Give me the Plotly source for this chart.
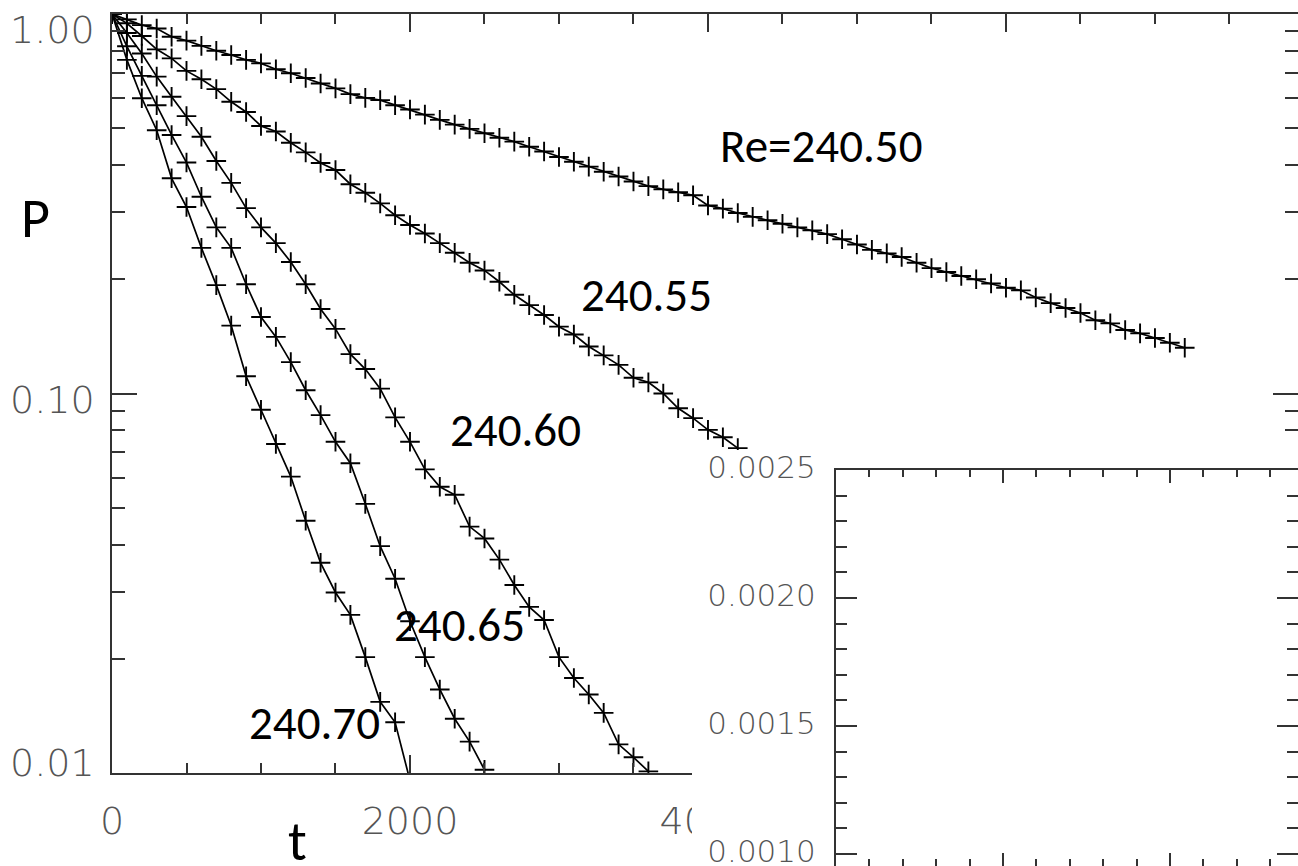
import math
import plotly.graph_objects as go

# ---------------- data ----------------
t_re24050 = list(range(0, 7201, 100))
p_re24050 = [1.000, 0.968, 0.935, 0.916, 0.871, 0.851, 0.824, 0.800, 0.780, 0.757,
             0.741, 0.715, 0.698, 0.678, 0.656, 0.637, 0.615, 0.601, 0.593, 0.575,
             0.560, 0.543, 0.526, 0.511, 0.498, 0.485, 0.472, 0.461, 0.447, 0.434,
             0.420, 0.408, 0.396, 0.384, 0.373, 0.362, 0.352, 0.345, 0.339, 0.333,
             0.313, 0.307, 0.299, 0.292, 0.286, 0.280, 0.274, 0.269, 0.263, 0.255,
             0.247, 0.239, 0.234, 0.229, 0.221, 0.214, 0.209, 0.204, 0.200, 0.195,
             0.190, 0.187, 0.179, 0.173, 0.168, 0.163, 0.156, 0.153, 0.147, 0.144,
             0.140, 0.136, 0.132]

t_re24055 = list(range(0, 4201, 100))
p_re24055 = [1.000, 0.945, 0.875, 0.807, 0.764, 0.708, 0.673, 0.634, 0.587, 0.552,
             0.507, 0.490, 0.458, 0.432, 0.405, 0.388, 0.356, 0.338, 0.317, 0.295,
             0.278, 0.264, 0.249, 0.235, 0.221, 0.211, 0.197, 0.182, 0.171, 0.161,
             0.150, 0.143, 0.133, 0.126, 0.119, 0.110, 0.107, 0.100, 0.0914, 0.0861,
             0.0802, 0.0767, 0.0718]

t_re24060 = list(range(0, 3601, 100))
p_re24060 = [1.000, 0.891, 0.787, 0.684, 0.605, 0.538, 0.475, 0.410, 0.359, 0.308,
             0.274, 0.249, 0.222, 0.194, 0.167, 0.148, 0.127, 0.116, 0.103, 0.0865,
             0.0746, 0.0631, 0.0568, 0.0541, 0.0446, 0.0415, 0.0365, 0.0313, 0.0274, 0.0253,
             0.0202, 0.0178, 0.0161, 0.0144, 0.0119, 0.0110, 0.0101]

t_re24065 = list(range(0, 2501, 100))
p_re24065 = [1.000, 0.822, 0.687, 0.575, 0.480, 0.406, 0.330, 0.274, 0.242, 0.194,
             0.159, 0.141, 0.121, 0.102, 0.0877, 0.0746, 0.0655, 0.0512, 0.0396, 0.0325,
             0.0251, 0.0202, 0.0166, 0.0139, 0.0121, 0.0102]

t_re24070 = list(range(0, 2001, 100))
p_re24070 = [1.000, 0.757, 0.600, 0.494, 0.369, 0.310, 0.242, 0.193, 0.151, 0.111,
             0.0906, 0.0736, 0.0604, 0.0462, 0.0358, 0.0299, 0.0261, 0.0202, 0.0154, 0.0136,
             0.00955]

curve_labels = ["Re=240.50", "240.55", "240.60", "240.65", "240.70"]
label_t = [4760, 3585, 2710, 2335, 1360]
label_p = [0.449, 0.182, 0.080, 0.0245, 0.01355]

x_tickvals = [0, 2000, 4000, 6000]
x_ticktext = ["0", "2000", "4000", "6000"]
x_minor = [500, 1000, 1500, 2500, 3000, 3500, 4500, 5000, 5500, 6500, 7000, 7500]
y_tickvals = [0.01, 0.1, 1.0]
y_ticktext = ["0.01", "0.10", "1.00"]
y_label_pos = [0.0106, 0.0962, 0.907]   # where the IDL labels sit next to their ticks
y_minor = [0.02, 0.03, 0.04, 0.05, 0.06, 0.07, 0.08, 0.09,
           0.2, 0.3, 0.4, 0.5, 0.6, 0.7, 0.8, 0.9]

inset_y_tickvals = [0.0010, 0.0015, 0.0020, 0.0025]
inset_y_ticktext = ["0.0010", "0.0015", "0.0020", "0.0025"]
inset_y_minor = [0.0011, 0.0012, 0.0013, 0.0014, 0.0016, 0.0017, 0.0018, 0.0019,
                 0.0021, 0.0022, 0.0023, 0.0024]
inset_x_tickvals = [0, 1, 2]
inset_x_minor = [0.2, 0.4, 0.6, 0.8, 1.2, 1.4, 1.6, 1.8, 2.2, 2.4, 2.6]

# ---------------- figure ----------------
W, H = 1298, 866
AX = "#333333"
LBL = "#555555"
TICKFONT = dict(family="DejaVu Sans", size=38, color=LBL, weight=200)
INSETFONT = dict(family="DejaVu Sans", size=31, color=LBL, weight=200)
TXTFONT = "Carlito, Lato, 'Open Sans', sans-serif"

fig = go.Figure()
for t, p in [(t_re24050, p_re24050), (t_re24055, p_re24055), (t_re24060, p_re24060),
             (t_re24065, p_re24065), (t_re24070, p_re24070)]:
    fig.add_trace(go.Scatter(
        x=t, y=p, mode="lines+markers", xaxis="x", yaxis="y",
        line=dict(color="black", width=1.7),
        marker=dict(symbol="cross-thin", size=14, color="black",
                    line=dict(color="black", width=1.9)),
        showlegend=False, hoverinfo="skip"))

# white cover subplot (inset picture background) and the inset itself
fig.add_trace(go.Scatter(x=[], y=[], xaxis="x2", yaxis="y2", showlegend=False))
fig.add_trace(go.Scatter(x=[], y=[], xaxis="x3", yaxis="y3", showlegend=False))


def px_x(px):
    return px / W


def px_y(py):
    return 1 - py / H


hidden = dict(showline=False, showticklabels=False, ticks="", showgrid=False,
              zeroline=False, range=[0, 1], fixedrange=True, automargin=False)

fig.update_layout(
    width=W, height=H,
    margin=dict(l=0, r=0, t=0, b=0, pad=0, autoexpand=False),
    paper_bgcolor="white", plot_bgcolor="white",
    xaxis=dict(
        domain=[px_x(112), 1], range=[0, 7960], anchor="y", automargin=False,
        showline=True, linecolor=AX, linewidth=2, mirror="ticks",
        ticks="inside", ticklen=18, tickwidth=2, tickcolor=AX,
        tickvals=x_tickvals, ticktext=x_ticktext, tickfont=TICKFONT,
        ticklabelstandoff=13, ticklabeloverflow="allow",
        minor=dict(tickvals=x_minor, ticks="inside", ticklen=10, tickwidth=2, tickcolor=AX),
        showgrid=False, zeroline=False),
    yaxis=dict(
        type="log", domain=[px_y(773), px_y(14)], range=[-2, 0], anchor="x", automargin=False,
        showline=True, linecolor=AX, linewidth=2, mirror="ticks",
        ticks="inside", ticklen=25, tickwidth=2, tickcolor=AX,
        tickvals=y_tickvals, showticklabels=False,
        minor=dict(tickvals=y_minor, ticks="inside", ticklen=13, tickwidth=2, tickcolor=AX),
        showgrid=False, zeroline=False),
    xaxis2=dict(domain=[px_x(692), 1], anchor="y2", **hidden),
    yaxis2=dict(domain=[0, px_y(450)], anchor="x2", **hidden),
    xaxis3=dict(
        domain=[px_x(836), 1], range=[0, 2.766], anchor="y3", automargin=False,
        showline=True, linecolor=AX, linewidth=2, mirror="ticks",
        ticks="inside", ticklen=13, tickwidth=2, tickcolor=AX,
        tickvals=inset_x_tickvals, showticklabels=False,
        minor=dict(tickvals=inset_x_minor, ticks="inside", ticklen=7, tickwidth=2, tickcolor=AX),
        showgrid=False, zeroline=False),
    yaxis3=dict(
        domain=[0, px_y(470)], range=[0.000953, 0.0025], anchor="x3", automargin=False,
        showline=True, linecolor=AX, linewidth=2, mirror="ticks",
        ticks="inside", ticklen=21, tickwidth=2, tickcolor=AX,
        tickvals=inset_y_tickvals, ticktext=inset_y_ticktext, tickfont=INSETFONT,
        ticklabelstandoff=12, ticklabeloverflow="allow", ticklabelshift=-3,
        minor=dict(tickvals=inset_y_minor, ticks="inside", ticklen=11, tickwidth=2, tickcolor=AX),
        showgrid=False, zeroline=False),
)

annotations = []
# main y tick labels (IDL places them slightly off their ticks)
for txt, yp in zip(y_ticktext, y_label_pos):
    annotations.append(dict(x=px_x(97), y=math.log10(yp), xref="paper", yref="y", text=txt,
                            showarrow=False, xanchor="right", yanchor="middle",
                            font=TICKFONT))
for txt, lt, lp in zip(curve_labels, label_t, label_p):
    annotations.append(dict(x=lt, y=math.log10(lp), xref="x", yref="y", text=txt,
                            showarrow=False, xanchor="center", yanchor="middle",
                            font=dict(family=TXTFONT, size=47, color="black")))
annotations.append(dict(x=px_x(35), y=px_y(218), xref="paper", yref="paper", text="P",
                        showarrow=False, xanchor="center", yanchor="middle",
                        font=dict(family=TXTFONT, size=56, color="black")))
annotations.append(dict(x=px_x(297), y=px_y(841), xref="paper", yref="paper", text="t",
                        showarrow=False, xanchor="center", yanchor="middle",
                        font=dict(family=TXTFONT, size=56, color="black")))
fig.update_layout(annotations=annotations)

fig.write_html("out.html")
